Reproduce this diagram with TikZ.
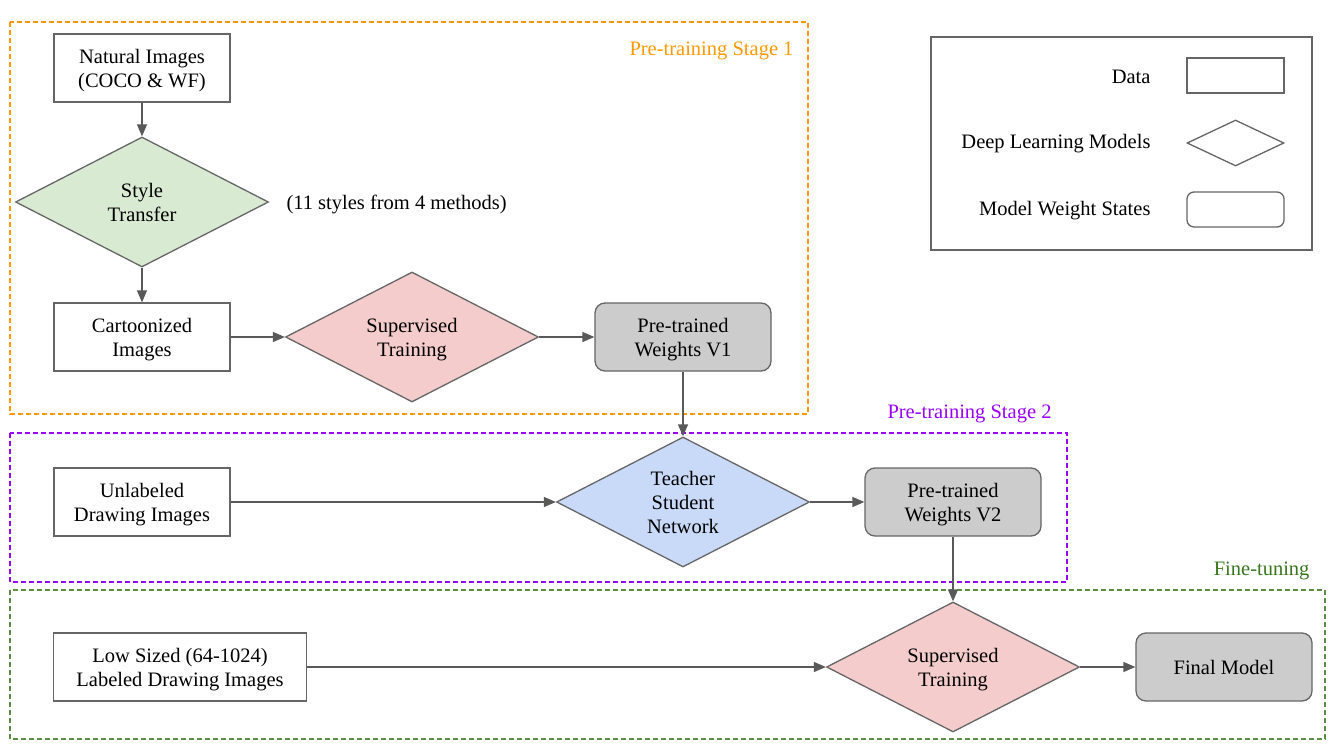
\documentclass[tikz,border=0pt]{standalone}
\usepackage{fontspec}
\setmainfont{Liberation Serif}
\usetikzlibrary{shapes.geometric,arrows.meta}

\definecolor{edgegray}{HTML}{595959}
\definecolor{boxgray}{HTML}{666666}
\definecolor{stageone}{HTML}{FF9900}
\definecolor{stagetwo}{HTML}{9900FF}
\definecolor{finetune}{HTML}{38761D}
\definecolor{finebox}{HTML}{5B8F45}
\definecolor{greenfill}{HTML}{D9EAD3}
\definecolor{pinkfill}{HTML}{F4CCCC}
\definecolor{bluefill}{HTML}{C9DAF8}
\definecolor{weightfill}{HTML}{CCCCCC}

\begin{document}
\begin{tikzpicture}[x=1pt,y=-1pt,
    font=\fontsize{20.5}{24}\selectfont,
    databox/.style={draw=boxgray,line width=1.3pt,fill=white,
        minimum width=176pt,minimum height=68pt,align=center,inner sep=0pt,
        text depth=0pt},
    modelbox/.style={draw=boxgray,line width=1.3pt,diamond,aspect=2,
        minimum width=253pt,minimum height=130pt,align=center,inner sep=0pt,
        text depth=0pt},
    weightbox/.style={databox,rounded corners=10pt,fill=weightfill},
    stagebox/.style={line width=1.3pt,dash pattern=on 5pt off 3pt},
    stagelabel/.style={anchor=east},
    flow/.style={draw=edgegray,line width=1.3pt,
        -{Triangle[length=12pt,width=10pt]}}]

\useasboundingbox (0,0) rectangle (1340,751);

% stage frames
\draw[stagebox,stageone] (10,22) rectangle (808,414);
\draw[stagebox,stagetwo] (10,433) rectangle (1067,582);
\draw[stagebox,finebox] (10,590) rectangle (1325,739);
\node[stagelabel,text=stageone] (lblone) at (797,51) {Pre-training Stage 1};
\node[stagelabel,text=stagetwo] (lbltwo) at (1055,414) {Pre-training Stage 2};
\node[stagelabel,text=finetune] (lblfine) at (1313,571) {Fine-tuning};

% stage 1
\node[databox] (natural) at (142,68) {Natural Images\\(COCO \& WF)};
\node[modelbox,fill=greenfill] (style) at (142,202) {Style\\Transfer};
\node[anchor=west] (stylenote) at (283,204) {(11 styles from 4 methods)};
\node[databox] (cartoon) at (142,337) {Cartoonized\\Images};
\node[modelbox,fill=pinkfill] (superone) at (412,337) {Supervised\\Training};
\node[weightbox] (weightone) at (683,337) {Pre-trained\\Weights V1};

% stage 2
\node[databox] (unlabeled) at (142,502) {Unlabeled\\Drawing Images};
\node[modelbox,fill=bluefill] (teacher) at (683,502) {Teacher\\Student\\Network};
\node[weightbox] (weighttwo) at (953,502) {Pre-trained\\Weights V2};

% fine-tuning
\node[databox,minimum width=253pt] (lowsized) at (180,667) {Low Sized (64-1024)\\Labeled Drawing Images};
\node[modelbox,fill=pinkfill] (supertwo) at (953,667) {Supervised\\Training};
\node[weightbox] (final) at (1224,667) {Final Model};

\draw[flow] (natural) -- (style);
\draw[flow] (style) -- (cartoon);
\draw[flow] (cartoon) -- (superone);
\draw[flow] (superone) -- (weightone);
\draw[flow] (weightone) -- (teacher);
\draw[flow] (unlabeled) -- (teacher);
\draw[flow] (teacher) -- (weighttwo);
\draw[flow] (weighttwo) -- (supertwo);
\draw[flow] (lowsized) -- (supertwo);
\draw[flow] (supertwo) -- (final);

% legend
\node[draw=boxgray,line width=1.3pt,minimum width=381pt,minimum height=213pt,inner sep=0pt] (legend) at (1121.5,143.5) {};
\node[databox,minimum width=97pt,minimum height=35pt] (keydata) at (1235.5,75.5) {};
\node[modelbox,minimum width=97pt,minimum height=46pt,fill=white] (keymodel) at (1235.5,143) {};
\node[weightbox,minimum width=97pt,minimum height=35pt,fill=white,rounded corners=7pt] (keyweight) at (1235.5,209.5) {};
\node[anchor=east] (txtdata) at (1154,77) {Data};
\node[anchor=east] (txtmodel) at (1154,144) {Deep Learning Models};
\node[anchor=east] (txtweight) at (1154,211) {Model Weight States};

\end{tikzpicture}
\end{document}
